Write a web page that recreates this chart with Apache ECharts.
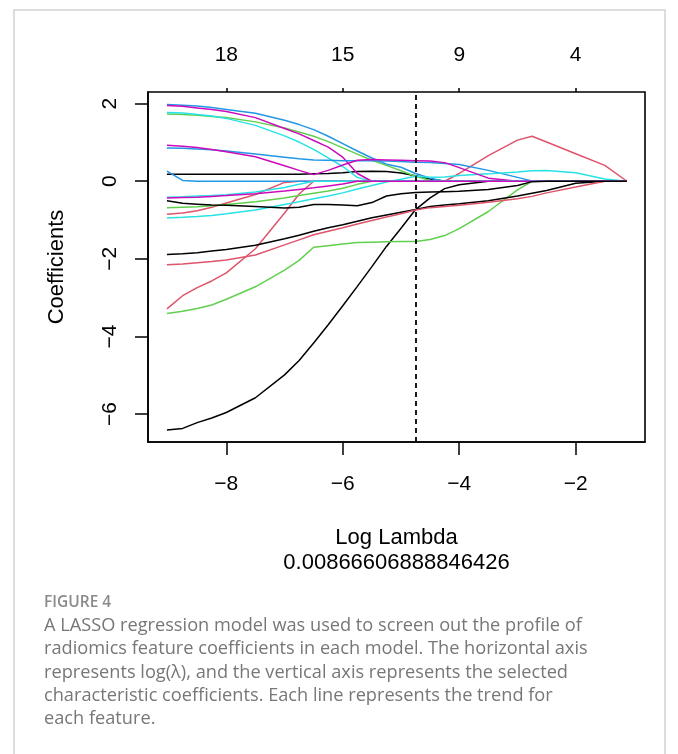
<!DOCTYPE html>
<html>
<head>
<meta charset="utf-8">
<script src="https://cdn.jsdelivr.net/npm/echarts@6/dist/echarts.min.js"></script>
<style>
  html, body { margin: 0; padding: 0; background: #fff; }
  #chart { width: 678px; height: 754px; }
</style>
</head>
<body>
<div id="chart"></div>
<script>
// LASSO 系数路径图 (glmnet plot 风格)

const logLambda = [-9.02, -8.75, -8.5, -8.25, -8, -7.5, -7, -6.75, -6.5, -6.25, -6, -5.75, -5.5, -5.25, -5, -4.75, -4.5, -4.25, -4, -3.5, -3, -2.75, -2.5, -2, -1.5, -1.12];

const coefK1 = [0.18, 0.18, 0.18, 0.18, 0.18, 0.18, 0.18, 0.18, 0.19, 0.20, 0.22, 0.25, 0.26, 0.25, 0.21, 0.14, 0.06, 0, 0, 0, 0, 0, 0, 0, 0, 0];
const coefR2 = [-0.85, -0.82, -0.76, -0.67, -0.56, -0.34, -0.03, 0, 0, 0, 0, 0, 0, 0, 0, 0, 0, 0, 0, 0, 0, 0, 0, 0, 0, 0];
const coefG1 = [1.73, 1.72, 1.70, 1.67, 1.64, 1.53, 1.37, 1.27, 1.16, 1.02, 0.86, 0.70, 0.54, 0.41, 0.27, 0.13, 0.02, 0, 0, 0, 0, 0, 0, 0, 0, 0];
const coefB1 = [1.98, 1.96, 1.94, 1.90, 1.85, 1.75, 1.57, 1.46, 1.33, 1.16, 0.97, 0.78, 0.60, 0.44, 0.36, 0.20, 0.08, 0, 0, 0, 0, 0, 0, 0, 0, 0];
const coefC1 = [1.77, 1.76, 1.72, 1.68, 1.62, 1.44, 1.17, 1.01, 0.82, 0.60, 0.38, 0.10, 0, 0, 0, 0, 0, 0, 0, 0, 0, 0, 0, 0, 0, 0];
const coefM1 = [1.95, 1.93, 1.89, 1.85, 1.80, 1.64, 1.36, 1.22, 1.05, 0.88, 0.62, 0.20, 0, 0, 0, 0, 0, 0, 0, 0, 0, 0, 0, 0, 0, 0];
const coefK4 = [-6.41, -6.37, -6.22, -6.10, -5.96, -5.58, -4.99, -4.62, -4.17, -3.70, -3.21, -2.71, -2.20, -1.68, -1.21, -0.73, -0.43, -0.19, -0.09, 0, 0, 0, 0, 0, 0, 0];
const coefR3 = [-3.29, -2.95, -2.74, -2.57, -2.36, -1.74, -0.82, -0.33, 0, 0, 0, 0, 0, 0, 0, 0, 0, 0, 0.20, 0.66, 1.06, 1.16, 1.01, 0.71, 0.41, 0];
const coefG3 = [-3.41, -3.35, -3.28, -3.19, -3.04, -2.72, -2.29, -2.04, -1.70, -1.66, -1.62, -1.58, -1.57, -1.56, -1.55, -1.55, -1.50, -1.40, -1.22, -0.78, -0.22, 0, 0, 0, 0, 0];
const coefB2 = [0.86, 0.85, 0.83, 0.81, 0.78, 0.70, 0.62, 0.58, 0.55, 0.54, 0.53, 0.53, 0.53, 0.52, 0.51, 0.49, 0.48, 0.46, 0.43, 0.28, 0.10, 0.01, 0, 0, 0, 0];
const coefC3 = [-0.95, -0.93, -0.91, -0.88, -0.84, -0.74, -0.60, -0.53, -0.45, -0.38, -0.30, -0.20, -0.11, -0.02, 0.05, 0.13, 0.10, 0.11, 0.15, 0.19, 0.24, 0.27, 0.28, 0.22, 0.06, 0];
const coefM2 = [0.93, 0.90, 0.87, 0.82, 0.76, 0.63, 0.40, 0.28, 0.17, 0.28, 0.42, 0.54, 0.56, 0.55, 0.54, 0.53, 0.52, 0.48, 0.35, 0.08, 0, 0, 0, 0, 0, 0];
const coefK3 = [-1.89, -1.87, -1.84, -1.80, -1.76, -1.65, -1.48, -1.39, -1.29, -1.20, -1.12, -1.03, -0.94, -0.87, -0.80, -0.73, -0.65, -0.61, -0.58, -0.50, -0.38, -0.31, -0.24, -0.05, 0, 0];
const coefR4 = [-2.15, -2.13, -2.10, -2.07, -2.03, -1.90, -1.64, -1.51, -1.38, -1.29, -1.20, -1.10, -1.01, -0.92, -0.84, -0.74, -0.68, -0.65, -0.62, -0.54, -0.45, -0.39, -0.30, -0.15, 0, 0];
const coefG2 = [-0.68, -0.67, -0.66, -0.63, -0.60, -0.53, -0.43, -0.37, -0.31, -0.25, -0.18, -0.08, 0, 0, 0, 0, 0, 0, 0, 0, 0, 0, 0, 0, 0, 0];
const coefB3 = [0.26, 0.02, 0, 0, 0, 0, 0, 0, 0, 0, 0, 0, 0, 0, 0, 0, 0, 0, 0, 0, 0, 0, 0, 0, 0, 0];
const coefC2 = [-0.41, -0.40, -0.38, -0.37, -0.35, -0.28, -0.16, -0.08, 0, 0, 0, 0, 0, 0, 0, 0, 0, 0, 0, 0, 0, 0, 0, 0, 0, 0];
const coefM3 = [-0.43, -0.42, -0.41, -0.39, -0.37, -0.32, -0.25, -0.21, -0.17, -0.12, -0.07, 0, 0, 0, 0, 0, 0, 0, 0, 0, 0, 0, 0, 0, 0, 0];
const coefK2 = [-0.50, -0.57, -0.59, -0.61, -0.62, -0.65, -0.69, -0.67, -0.60, -0.60, -0.61, -0.63, -0.55, -0.38, -0.32, -0.29, -0.28, -0.27, -0.26, -0.21, -0.11, -0.01, 0, 0, 0, 0];

// 变量顺序 (matplot 默认颜色 1:6 循环)
const paths = [coefK1, coefR2, coefG1, coefB1, coefC1, coefM1,
               coefK4, coefR3, coefG3, coefB2, coefC3, coefM2,
               coefK3, coefR4, coefG2, coefB3, coefC2, coefM3,
               coefK2];

const xTicks = [-8, -6, -4, -2];
const dfLabels = ['18', '15', '9', '4'];
const yTicks = [-6, -4, -2, 0, 2];
const lambdaMin = 0.00866606888846426;

const palette = ['#000000', '#DF536B', '#61D04F', '#2297E6', '#28E2E5', '#CD0BBC'];

const captionLines = [
  'A LASSO regression model was used to screen out the profile of',
  'radiomics feature coefficients in each model. The horizontal axis',
  'represents log(\u03bb), and the vertical axis represents the selected',
  'characteristic coefficients. Each line represents the trend for',
  'each feature.'
];

const minus = v => String(v).replace('-', '\u2212');
const axisFont = 'Liberation Sans';

const chart = echarts.init(document.getElementById('chart'), null, { renderer: 'canvas' });

const series = paths.map((ys, i) => ({
  type: 'line',
  data: logLambda.map((x, j) => [x, ys[j]]),
  symbol: 'none',
  silent: true,
  lineStyle: { color: palette[i % 6], width: 1.5 }
}));

series[0].markLine = {
  silent: true,
  symbol: ['none', 'none'],
  label: { show: false },
  lineStyle: { color: '#000', type: [5, 4], width: 1.8 },
  data: [{ xAxis: Math.log(lambdaMin) }]
};

const option = {
  animation: false,
  backgroundColor: '#fff',
  grid: {
    left: 148, right: 33, top: 92, bottom: 312,
    show: true, borderColor: '#000', borderWidth: 1.6
  },
  xAxis: [
    {
      type: 'value', position: 'bottom',
      min: -9.345, max: -0.81,
      name: 'Log Lambda\n' + String(lambdaMin),
      nameLocation: 'middle', nameGap: 83,
      nameTextStyle: { fontSize: 22, fontFamily: axisFont, color: '#000', lineHeight: 25 },
      axisLine: { show: true, onZero: false, lineStyle: { color: '#000', width: 1.6 } },
      axisTick: { show: true, customValues: xTicks, length: 13, lineStyle: { color: '#000', width: 1.5 } },
      axisLabel: { customValues: xTicks, formatter: minus, fontSize: 21, fontFamily: axisFont, color: '#000', margin: 32 },
      splitLine: { show: false }
    },
    {
      type: 'value', position: 'top',
      min: -9.345, max: -0.81,
      axisLine: { show: false, onZero: false },
      axisTick: { show: true, customValues: xTicks, length: 4, lineStyle: { color: '#000', width: 1.5 } },
      axisLabel: {
        customValues: xTicks,
        formatter: v => dfLabels[xTicks.indexOf(v)],
        fontSize: 21, fontFamily: axisFont, color: '#000', margin: 26
      },
      splitLine: { show: false }
    }
  ],
  yAxis: {
    type: 'value',
    min: -6.72, max: 2.30,
    name: 'Coefficients',
    nameLocation: 'middle', nameGap: 80,
    nameTextStyle: { fontSize: 22, fontFamily: axisFont, color: '#000' },
    axisLine: { show: true, onZero: false, lineStyle: { color: '#000', width: 1.6 } },
    axisTick: { show: true, customValues: yTicks, length: 13, lineStyle: { color: '#000', width: 1.5 } },
    axisLabel: { customValues: yTicks, formatter: minus, rotate: 90, fontSize: 21, fontFamily: axisFont, color: '#000', margin: 27 },
    splitLine: { show: false }
  },
  graphic: [
    {
      type: 'rect', silent: true,
      shape: { x: 14, y: 10, width: 651, height: 760 },
      style: { fill: 'none', stroke: '#d2d2d2', lineWidth: 1.5 }
    },
    {
      type: 'text', x: 44, y: 603, silent: true,
      style: { text: 'FIGURE 4', fontSize: 15.5, fontFamily: 'Open Sans', fontWeight: 600, fill: '#8a8a8a', verticalAlign: 'middle' }
    }
  ].concat(captionLines.map((t, i) => ({
    type: 'text', x: 44, y: 626 + i * 23.2, silent: true,
    style: { text: t, fontSize: 18.2, fontFamily: 'Open Sans', fill: '#777777', verticalAlign: 'middle' }
  }))),
  series: series
};

chart.setOption(option);
</script>
</body>
</html>
